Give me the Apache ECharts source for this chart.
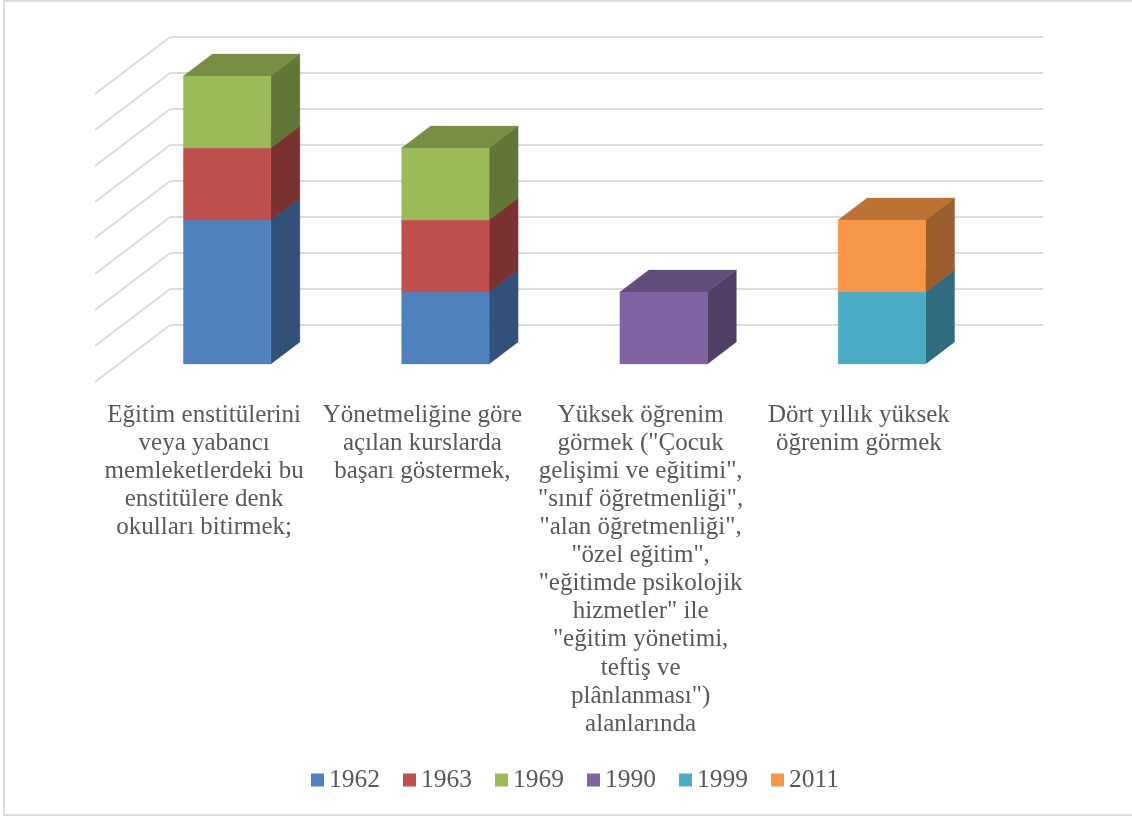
<!DOCTYPE html>
<html><head><meta charset="utf-8">
<style>html,body{margin:0;padding:0;background:#fff}#c{width:1132px;height:816px}</style>
<script src="https://cdn.jsdelivr.net/npm/echarts@6/dist/echarts.min.js"></script>
</head><body><div id="c"></div>
<script>
const categories = [
  'Eğitim enstitülerini\nveya yabancı\nmemleketlerdeki bu\nenstitülere denk\nokulları bitirmek;',
  'Yönetmeliğine göre\naçılan kurslarda\nbaşarı göstermek,',
  'Yüksek öğrenim\ngörmek ("Çocuk\ngelişimi ve eğitimi",\n"sınıf öğretmenliği",\n"alan öğretmenliği",\n"özel eğitim",\n"eğitimde psikolojik\nhizmetler" ile\n"eğitim yönetimi,\nteftiş ve\nplânlanması")\nalanlarında',
  'Dört yıllık yüksek\nöğrenim görmek'
];
const seriesNames = ['1962', '1963', '1969', '1990', '1999', '2011'];
const v1962 = [2, 1, 0, 0];
const v1963 = [1, 1, 0, 0];
const v1969 = [1, 1, 0, 0];
const v1990 = [0, 0, 1, 0];
const v1999 = [0, 0, 0, 1];
const v2011 = [0, 0, 0, 1];
const allValues = [v1962, v1963, v1969, v1990, v1999, v2011];
const frontColors = ['#4F81BD', '#C0504D', '#9BBB59', '#8064A2', '#4BACC6', '#F79646'];
const topColors   = ['#3C6290', '#923D3B', '#778E44', '#614C7B', '#398397', '#BC7235'];
const sideColors  = ['#325179', '#793230', '#627638', '#513F66', '#2F6C7D', '#9C5E2C'];
const gridTicks = [0, 0.5, 1, 1.5, 2, 2.5, 3, 3.5, 4];

const FONT = '"Liberation Serif"';
const INK = '#595959';
const GRIDLINE = '#DCDCDC';
const WALL = { dx: 75, dy: -57 };
const BAR_NEAR = { dx: 23, dy: -18 };
const BAR_FAR = { dx: 52, dy: -40 };
const BAR_WIDTH = 87.5;

function wallItem(params, api) {
  const p = api.coord([0, api.value(0)]);
  const x = params.coordSys.x;
  return { type: 'line', silent: true,
    shape: { x1: x, y1: p[1], x2: x + WALL.dx, y2: p[1] + WALL.dy },
    style: { stroke: GRIDLINE, lineWidth: 2 } };
}

function boxItem(s) {
  return function (params, api) {
    const c = api.coord([api.value(0), api.value(1)]);
    const t = api.coord([api.value(0), api.value(2)]);
    const L = c[0] + BAR_NEAR.dx - BAR_WIDTH / 2, R = L + BAR_WIDTH;
    const yb = c[1] + BAR_NEAR.dy, yt = t[1] + BAR_NEAR.dy;
    const ox = BAR_FAR.dx - BAR_NEAR.dx, oy = BAR_FAR.dy - BAR_NEAR.dy;
    const poly = (pts, fill) => ({ type: 'polygon', shape: { points: pts },
      style: { fill: fill, stroke: fill, lineWidth: 0.3 } });
    return { type: 'group', silent: true, children: [
      poly([[L, yt], [R, yt], [R + ox, yt + oy], [L + ox, yt + oy]], topColors[s]),
      poly([[R, yb], [R + ox, yb + oy], [R + ox, yt + oy], [R, yt]], sideColors[s]),
      poly([[L, yb], [R, yb], [R, yt], [L, yt]], frontColors[s])
    ] };
  };
}

const running = categories.map(() => 0);
const barSeries = seriesNames.map((name, s) => {
  const data = [];
  allValues[s].forEach((v, i) => {
    if (v > 0) { data.push([i, running[i], running[i] + v]); running[i] += v; }
  });
  return { type: 'custom', name: name, xAxisIndex: 0, yAxisIndex: 0, z: 5 + s,
    itemStyle: { color: frontColors[s] }, encode: { x: 0, y: [1, 2] },
    renderItem: boxItem(s), data: data };
});

const chart = echarts.init(document.getElementById('c'), null, { renderer: 'canvas' });
chart.setOption({
  animation: false,
  backgroundColor: '#fff',
  tooltip: { show: false },
  graphic: [{ type: 'rect', silent: true, z: -1,
    shape: { x: 4, y: 1, width: 1140, height: 814 },
    style: { fill: 'none', stroke: '#DEDEDE', lineWidth: 2 } }],
  legend: {
    data: seriesNames, left: 306, top: 762, icon: 'rect', itemWidth: 13, itemHeight: 13,
    itemGap: 23, selectedMode: false,
    textStyle: { fontFamily: FONT, fontSize: 25.5, color: INK, padding: [0, 0, 0, 0] }
  },
  grid: [
    { left: 95, top: 94, width: 873, height: 288 },
    { left: 170, top: 37, width: 873, height: 288 }
  ],
  xAxis: [
    { type: 'category', gridIndex: 0, data: categories,
      axisLine: { show: false }, axisTick: { show: false },
      axisLabel: { interval: 0, margin: 19, hideOverlap: false, verticalAlign: 'top',
        fontFamily: FONT, fontSize: 25, lineHeight: 28.1, color: INK } },
    { type: 'category', gridIndex: 1, data: categories, show: false }
  ],
  yAxis: [
    { type: 'value', gridIndex: 0, min: 0, max: 4, interval: 0.5,
      axisLine: { show: false }, axisTick: { show: false }, axisLabel: { show: false },
      splitLine: { show: false } },
    { type: 'value', gridIndex: 1, min: 0, max: 4, interval: 0.5,
      axisLine: { show: false }, axisTick: { show: false }, axisLabel: { show: false },
      splitLine: { show: true, lineStyle: { color: GRIDLINE, width: 2 } } }
  ],
  series: [
    { type: 'custom', name: 'walls', xAxisIndex: 0, yAxisIndex: 0, z: 1,
      encode: { y: 0 }, renderItem: wallItem, data: gridTicks.map(t => [t]) }
  ].concat(barSeries)
});
</script></body></html>
